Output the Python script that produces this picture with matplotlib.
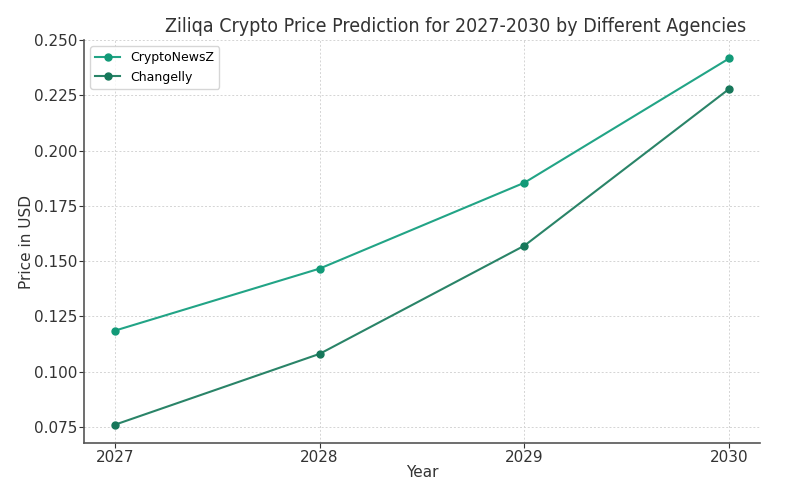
import matplotlib
matplotlib.use('Agg')
import matplotlib.pyplot as plt

# data
years = [2027, 2028, 2029, 2030]
cryptonewsz = [0.1185, 0.1466, 0.1855, 0.2418]
changelly = [0.0759, 0.1080, 0.1570, 0.2280]

fig = plt.figure(figsize=(8, 4.88), dpi=100)
ax = fig.add_axes([0.105, 0.092, 0.845, 0.826])

ax.plot(years, cryptonewsz, marker='o', markersize=5, linewidth=1.5,
        color='#22a486', markerfacecolor='#129a78', markeredgecolor='#129a78',
        label='CryptoNewsZ')
ax.plot(years, changelly, marker='o', markersize=5, linewidth=1.5,
        color='#2a8468', markerfacecolor='#16775a', markeredgecolor='#16775a',
        label='Changelly')

ax.set_title('Ziliqa Crypto Price Prediction for 2027-2030 by Different Agencies',
             fontsize=14, fontstretch='condensed', color='#333333', x=0.55, pad=6)
ax.set_xlabel('Year', fontsize=11, color='#333333', labelpad=0)
ax.set_ylabel('Price in USD', fontsize=11, color='#333333', labelpad=0)
ax.set_xticks(years)
ax.tick_params(labelsize=11, colors='#333333', pad=1.5)
ax.grid(True, linestyle=(0, (2, 2)), color='#d4d4d4', linewidth=0.7)
for s in ['top', 'right']:
    ax.spines[s].set_visible(False)
for s in ['left', 'bottom']:
    ax.spines[s].set_color('#555555')
    ax.spines[s].set_linewidth(1.2)
ax.legend(loc='upper left', fontsize=9)

fig.savefig('out.png', dpi=100)
